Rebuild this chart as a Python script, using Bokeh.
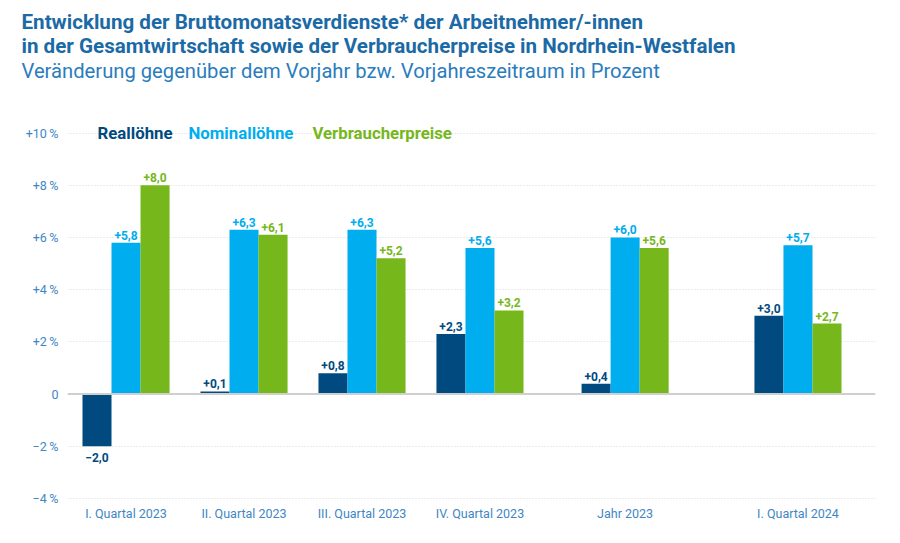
from bokeh.plotting import figure
from bokeh.models import Range1d, FixedTicker, Label, Span, ColumnDataSource, Title
from bokeh.core.properties import value
from bokeh.embed import file_html
from bokeh.resources import INLINE

# --- data -------------------------------------------------------------
categories = ["I. Quartal 2023", "II. Quartal 2023", "III. Quartal 2023",
              "IV. Quartal 2023", "Jahr 2023", "I. Quartal 2024"]
series_names = ["Reallöhne", "Nominallöhne", "Verbraucherpreise"]
realloehne = [-2.0, 0.1, 0.8, 2.3, 0.4, 3.0]
nominalloehne = [5.8, 6.3, 6.3, 5.6, 6.0, 5.7]
verbraucherpreise = [8.0, 6.1, 5.2, 3.2, 5.6, 2.7]
y_ticks = [-4, -2, 0, 2, 4, 6, 8, 10]

# --- layout / style ---------------------------------------------------
group_pos = [0.0, 1.0, 2.0, 3.0, 4.23, 5.695]   # annual value set apart
bar_w = 0.246
offsets = [-bar_w, 0.0, bar_w]
colors = ["#004a80", "#00adee", "#76b71b"]
tick_color = "#3f86c4"
title_color = "#1c6aa5"
FONT = "Roboto"

p = figure(width=900, height=543, output_backend="svg", toolbar_location=None,
           title_location=None,
           x_range=Range1d(-0.496, 6.352), y_range=Range1d(-4.229, 11.17),
           min_border_left=67, min_border_right=25,
           min_border_top=0, min_border_bottom=39)
p.outline_line_color = None
p.background_fill_color = "white"
p.border_fill_color = "white"

# heading: titles stack upwards from the frame, so the lowest one goes first
heading = [
    (" ", "normal", "5px", "white", 12),      # gap above the plot area
    ("Veränderung gegenüber dem Vorjahr bzw. Vorjahreszeitraum in Prozent", "normal", "20.2px", "#2a7dbd", -1),
    ("in der Gesamtwirtschaft sowie der Verbraucherpreise in Nordrhein-Westfalen", "bold", "20.6px", title_color, -1),
    ("Entwicklung der Bruttomonatsverdienste* der Arbeitnehmer/-innen", "bold", "20.6px", title_color, -3),
    (" ", "normal", "5px", "white", 1),       # top margin
]
for txt, style, size, col, so in heading:
    p.add_layout(Title(text=txt, align="left", offset=-46, text_font=FONT,
                       text_font_style=style, text_font_size=size,
                       text_color=col, standoff=so), "above")

# axes
p.xaxis.ticker = FixedTicker(ticks=group_pos)
p.xaxis.major_label_overrides = {pos: lab for pos, lab in zip(group_pos, categories)}
p.xaxis.axis_line_color = None
p.xaxis.major_tick_line_color = None
p.xaxis.minor_tick_line_color = None
p.xaxis.major_tick_out = 0
p.xaxis.major_tick_in = 0
p.xaxis.minor_tick_out = 0
p.xaxis.major_label_standoff = 1
p.xaxis.major_label_text_font = FONT
p.xaxis.major_label_text_font_size = "12.5px"
p.xaxis.major_label_text_color = tick_color

def fmt_tick(v):
    if v == 0:
        return "0"
    return ("+" if v > 0 else "\u2212") + f"{abs(v)}\u2009%"

p.yaxis.ticker = FixedTicker(ticks=y_ticks)
p.yaxis.major_label_overrides = {v: fmt_tick(v) for v in y_ticks}
p.yaxis.axis_line_color = None
p.yaxis.major_tick_line_color = None
p.yaxis.minor_tick_line_color = None
p.yaxis.major_tick_out = 0
p.yaxis.major_tick_in = 0
p.yaxis.minor_tick_out = 0
p.yaxis.major_label_standoff = 9
p.yaxis.major_label_text_font = FONT
p.yaxis.major_label_text_font_size = "12.5px"
p.yaxis.major_label_text_color = tick_color

p.xgrid.grid_line_color = None
p.ygrid.grid_line_color = "#d9d9d9"
p.ygrid.grid_line_dash = "1 2"
p.ygrid.grid_line_width = 1

# bars and value labels
all_series = [realloehne, nominalloehne, verbraucherpreise]
for vals, off, col in zip(all_series, offsets, colors):
    xs = [g + off for g in group_pos]
    p.vbar(x=xs, top=vals, bottom=0, width=bar_w, fill_color=col, line_color=None)
    texts = [("+" if v >= 0 else "\u2212") + f"{abs(v):.1f}".replace(".", ",") for v in vals]
    pos_src = ColumnDataSource(dict(
        x=[x for x, v in zip(xs, vals) if v >= 0],
        y=[v + 0.29 for v in vals if v >= 0],
        t=[t for t, v in zip(texts, vals) if v >= 0]))
    neg_src = ColumnDataSource(dict(
        x=[x for x, v in zip(xs, vals) if v < 0],
        y=[v - 0.25 for v in vals if v < 0],
        t=[t for t, v in zip(texts, vals) if v < 0]))
    p.text(x="x", y="y", text="t", source=pos_src, text_align="center",
           text_baseline="alphabetic", text_color=col, text_font=value(FONT),
           text_font_style="bold", text_font_size="12px")
    p.text(x="x", y="y", text="t", source=neg_src, text_align="center",
           text_baseline="top", text_color=col, text_font=value(FONT),
           text_font_style="bold", text_font_size="12px")

# zero line
p.add_layout(Span(location=0, dimension="width", line_color="#cfcfcf", line_width=2))

# legend as coloured words
for name, col, lx in zip(series_names, colors, [-0.2415, 0.5297, 1.580]):
    p.add_layout(Label(x=lx, y=10, text=name, text_color=col, text_font=FONT,
                       text_font_style="bold", text_font_size="16.8px",
                       text_baseline="middle", text_align="left"))

open("out.html", "w").write(file_html(p, INLINE))
